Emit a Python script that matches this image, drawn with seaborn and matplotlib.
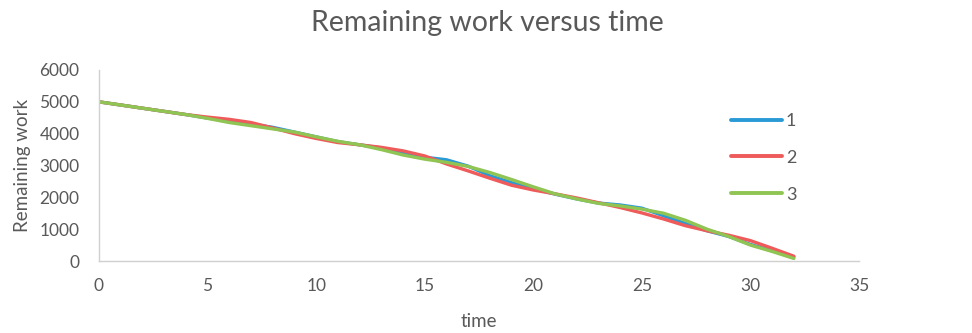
import matplotlib
matplotlib.use("Agg")
import matplotlib.pyplot as plt
import seaborn as sns
import pandas as pd

time = list(range(0, 33))
series_1 = [5000, 4900, 4800, 4700, 4600, 4490, 4400, 4300, 4200, 4050, 3900,
            3750, 3650, 3550, 3380, 3260, 3180, 2980, 2680, 2460, 2280, 2100,
            1950, 1820, 1760, 1660, 1420, 1180, 950, 770, 520, 320, 130]
series_2 = [5000, 4900, 4800, 4700, 4600, 4520, 4450, 4350, 4180, 4000, 3850,
            3720, 3650, 3570, 3460, 3300, 3050, 2830, 2600, 2380, 2230, 2110,
            1980, 1830, 1680, 1510, 1320, 1110, 950, 810, 640, 400, 150]
series_3 = [5000, 4900, 4800, 4700, 4600, 4480, 4350, 4250, 4150, 4050, 3900,
            3760, 3650, 3500, 3330, 3200, 3100, 2970, 2780, 2560, 2330, 2110,
            1950, 1810, 1730, 1630, 1500, 1280, 1000, 770, 500, 300, 80]
series_names = ["1", "2", "3"]
x_ticks = [0, 5, 10, 15, 20, 25, 30, 35]
y_ticks = [0, 1000, 2000, 3000, 4000, 5000, 6000]

df = pd.DataFrame({
    "time": time * 3,
    "work": series_1 + series_2 + series_3,
    "series": [series_names[0]] * len(time) + [series_names[1]] * len(time) + [series_names[2]] * len(time),
})

sns.set_theme(style="white")
plt.rcParams["font.family"] = ["Lato", "DejaVu Sans"]

palette = {"1": "#2a9ad6", "2": "#ef5a5a", "3": "#90c453"}
text_color = "#595959"

fig = plt.figure(figsize=(9.72, 3.33), dpi=100)
ax = fig.add_axes([99 / 972, 1 - 261 / 333, 760 / 972, 191 / 333])

sns.lineplot(data=df, x="time", y="work", hue="series", palette=palette,
             linewidth=2.4, ax=ax, legend=True)

ax.set_xlim(0, 35)
ax.set_ylim(0, 6000)
ax.set_xticks(x_ticks)
ax.set_yticks(y_ticks)
ax.tick_params(axis="y", length=0, labelsize=12.5, colors=text_color, pad=14)
ax.tick_params(axis="x", length=0, labelsize=12.5, colors=text_color, pad=12)
for s in ["top", "right"]:
    ax.spines[s].set_visible(False)
ax.spines["left"].set_color("#d0d0d0")
ax.spines["bottom"].set_color("#d0d0d0")
ax.spines["left"].set_linewidth(1.0)
ax.spines["bottom"].set_linewidth(1.0)

ax.set_xlabel("time", fontsize=13.5, color=text_color, labelpad=14)
ax.set_ylabel("Remaining work", fontsize=13.5, color=text_color, labelpad=6)

fig.text(487 / 972, 1 - 23 / 333, "Remaining work versus time", ha="center", va="center",
         fontsize=20.5, color=text_color)

leg = ax.legend(loc="upper left", bbox_to_anchor=(0.81, 0.86), frameon=False,
                handlelength=2.85, labelspacing=1.15, fontsize=13, handletextpad=0.2)
for t in leg.get_texts():
    t.set_color(text_color)
for l in leg.get_lines():
    l.set_linewidth(2.8)

fig.savefig("out.png", dpi=100)
